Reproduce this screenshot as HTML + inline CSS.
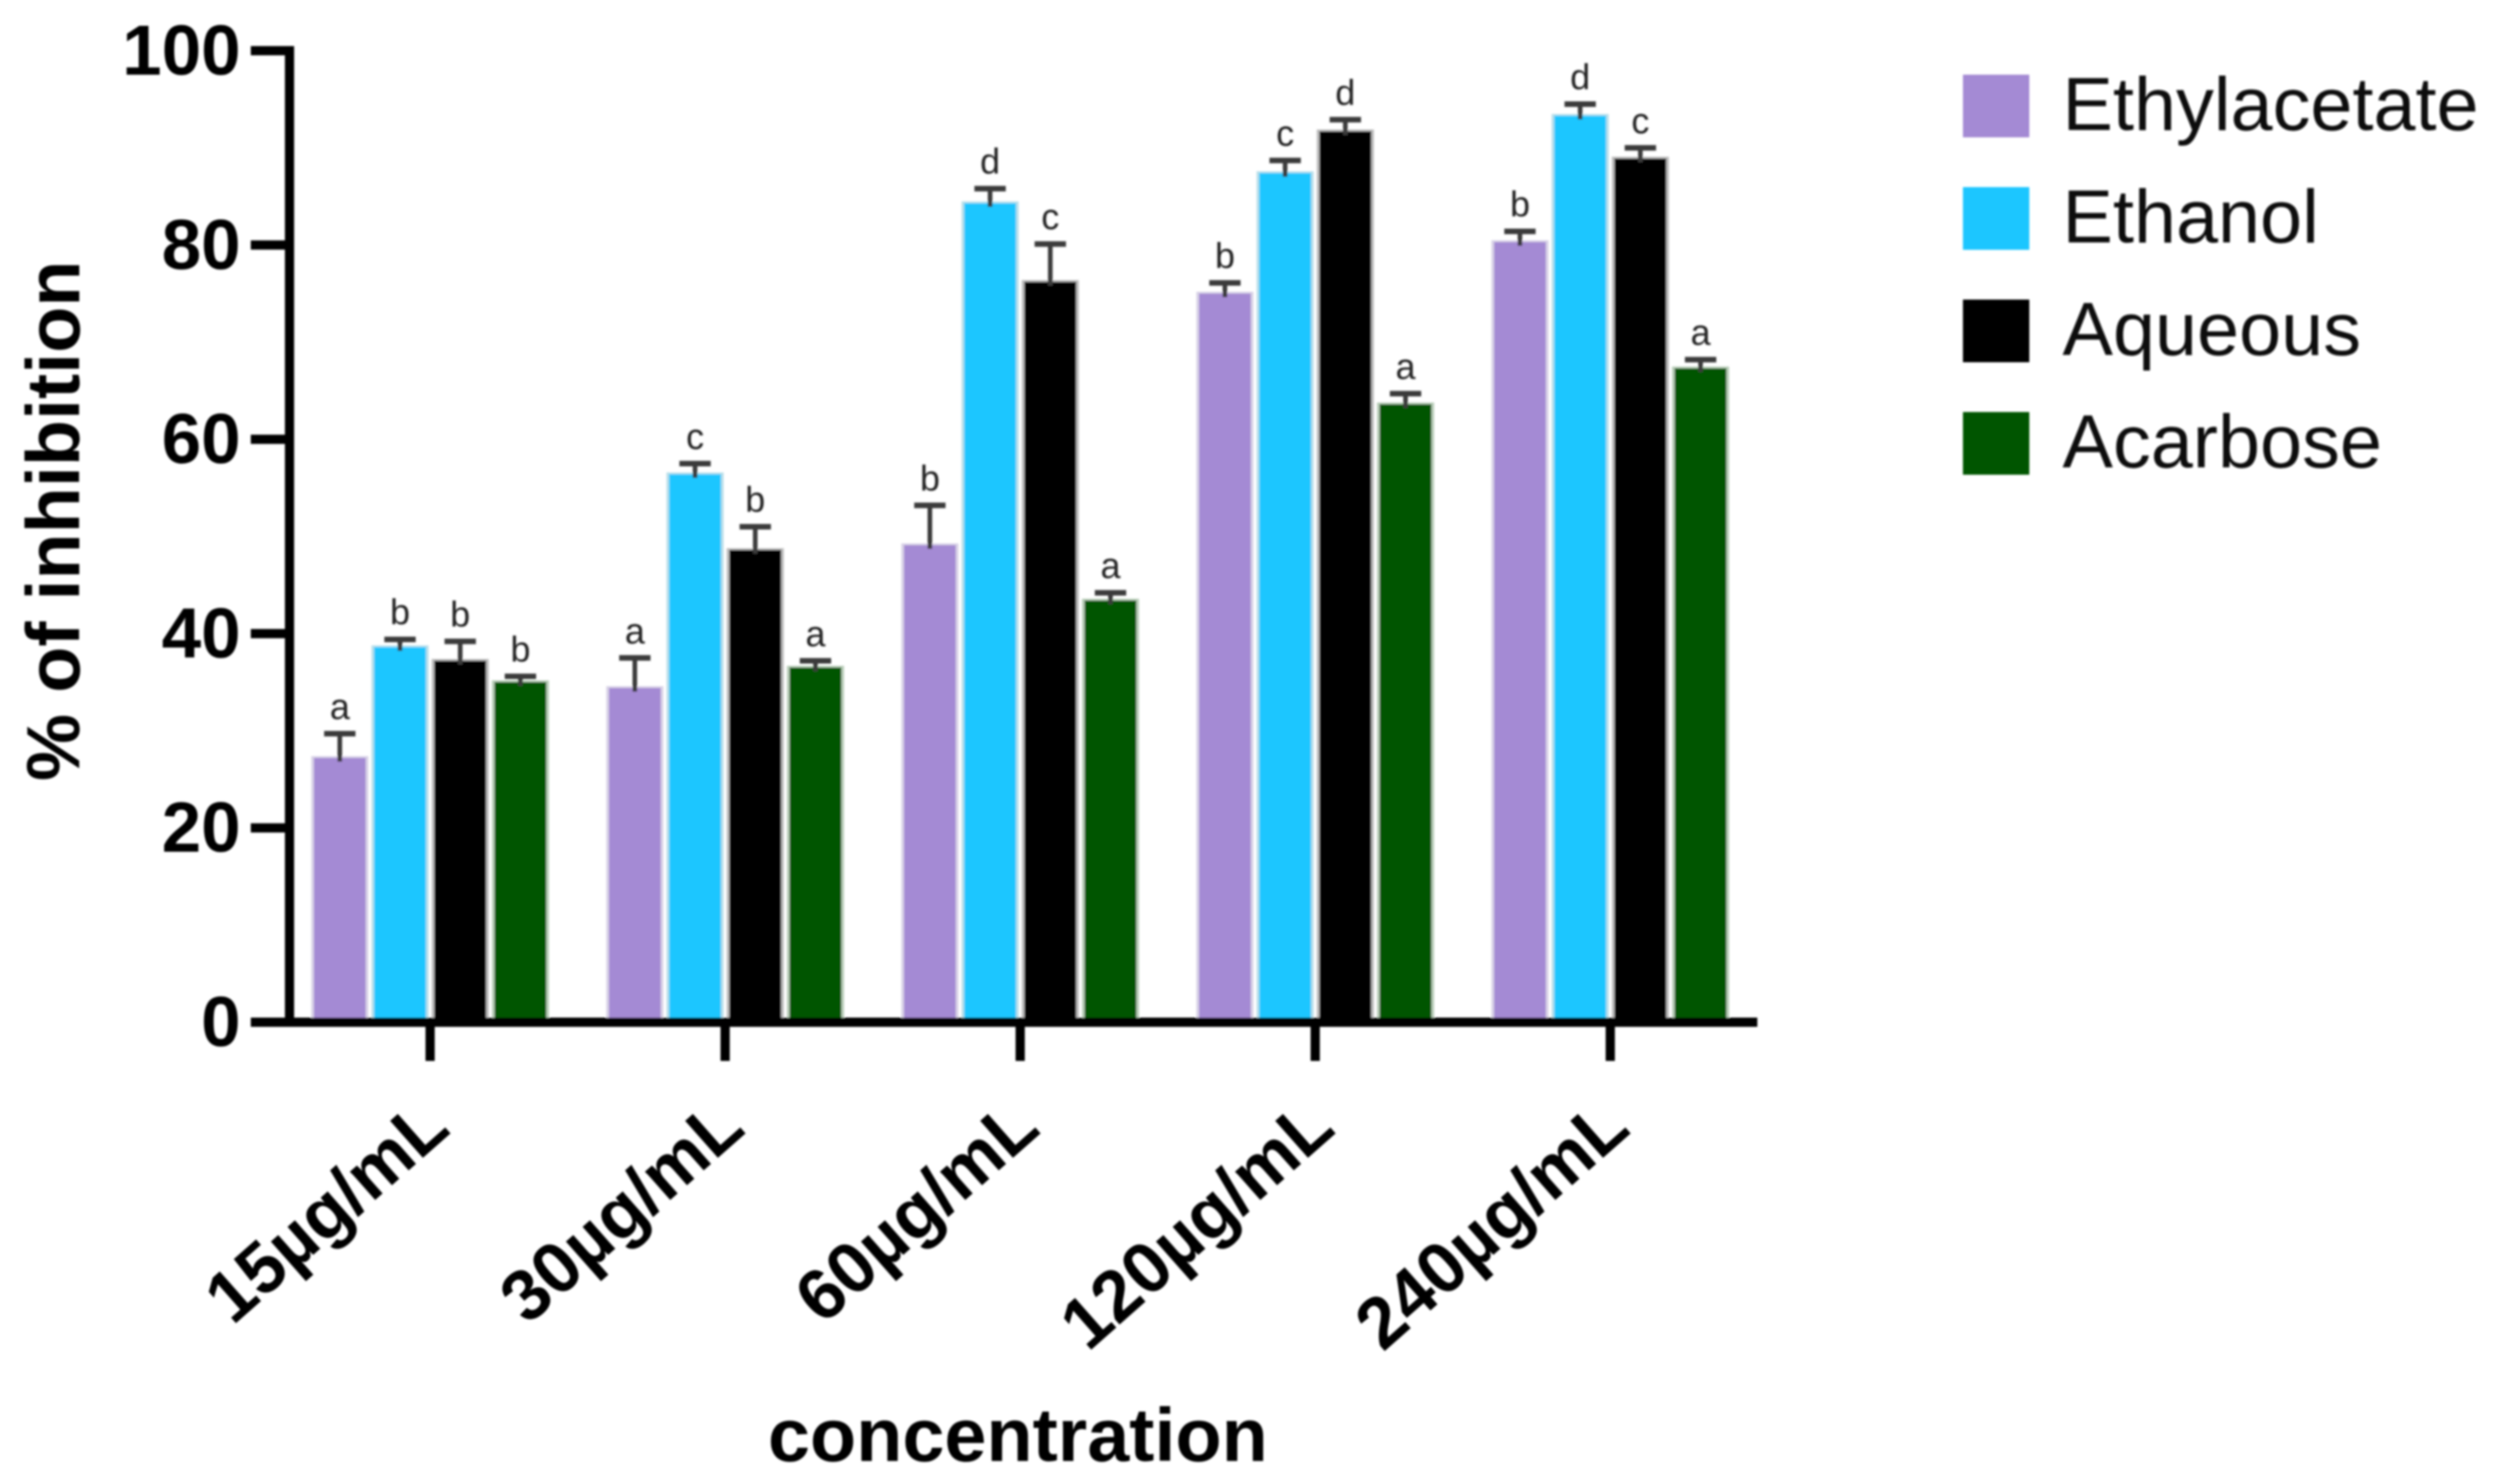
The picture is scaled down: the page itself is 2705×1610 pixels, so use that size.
<!DOCTYPE html>
<html lang="en">
<head>
<meta charset="utf-8">
<title>% of inhibition by concentration</title>
<style>
html,body{margin:0;padding:0;background:#fff;}
svg{display:block;font-family:"Liberation Sans",Arial,sans-serif;}
</style>
</head>
<body>
<svg id="chart" xmlns="http://www.w3.org/2000/svg" width="2705" height="1610" viewBox="0 0 2705 1610">
<defs><filter id="soft" x="-2%" y="-2%" width="104%" height="104%"><feGaussianBlur stdDeviation="1"/></filter></defs>
<rect x="0" y="0" width="2705" height="1610" fill="#ffffff"/>
<g id="plot" filter="url(#soft)"></g>
</svg>
<script>
const categories = ['15µg/mL', '30µg/mL', '60µg/mL', '120µg/mL', '240µg/mL'];
const seriesNames = ['Ethylacetate', 'Ethanol', 'Aqueous', 'Acarbose'];
const seriesColors = ['#A48AD4', '#1AC6FF', '#000000', '#005500'];
const edgeColors = ['#d8d2e6', '#b8dfea', '#bdbdbd', '#b8cdb8'];
const ethylacetate = [27.2, 34.4, 49.1, 75.0, 80.3];
const ethanol = [38.6, 56.4, 84.3, 87.4, 93.3];
const aqueous = [37.2, 48.6, 76.2, 91.7, 88.9];
const acarbose = [35.0, 36.5, 43.4, 63.6, 67.3];
const ethylacetateErr = [2.5, 3.1, 4.1, 1.1, 1.1];
const ethanolErr = [0.8, 1.1, 1.5, 1.3, 1.2];
const aqueousErr = [2.0, 2.4, 3.9, 1.2, 1.1];
const acarboseErr = [0.6, 0.7, 0.8, 1.1, 0.9];
const ethylacetateLetters = ['a', 'a', 'b', 'b', 'b'];
const ethanolLetters = ['b', 'c', 'd', 'c', 'd'];
const aqueousLetters = ['b', 'b', 'c', 'd', 'c'];
const acarboseLetters = ['b', 'a', 'a', 'a', 'a'];
const yTicks = [0, 20, 40, 60, 80, 100];

const values = [ethylacetate, ethanol, aqueous, acarbose];
const errors = [ethylacetateErr, ethanolErr, aqueousErr, acarboseErr];
const letters = [ethylacetateLetters, ethanolLetters, aqueousLetters, acarboseLetters];

const plot = document.getElementById('plot');
const NS = 'http://www.w3.org/2000/svg';
const Y0 = 1109, Y100 = 55;
const GROUP0 = 466.5, GROUP_STEP = 320, BAR_STEP = 65.3, BAR_W = 56, AXIS_X = 314;

function yScale(v) { return Y0 - (v / 100) * (Y0 - Y100); }
function groupX(i) { return GROUP0 + i * GROUP_STEP; }
function barX(i, s) { return groupX(i) + (s - 1.5) * BAR_STEP; }
function node(tag, parent) {
  const el = document.createElementNS(NS, tag);
  (parent || plot).appendChild(el);
  return el;
}
function setRect(el, x, y, w, h, fill) {
  el.setAttribute('x', x); el.setAttribute('y', y);
  el.setAttribute('width', w); el.setAttribute('height', h);
  el.setAttribute('fill', fill);
}

// bars, error bars, significance letters
values.forEach(function (series, s) {
  series.forEach(function (v, i) {
    const cx = barX(i, s), top = yScale(v), errTop = yScale(v + errors[s][i]);
    const edge = node('rect');
    
    
    setRect(edge, cx - BAR_W / 2 - 3, top - 2, BAR_W + 6, Y0 - top + 2, edgeColors[s]);

    const bar = node('rect');
    
    
    setRect(bar, cx - BAR_W / 2, top, BAR_W, Y0 - top, seriesColors[s]);

    const stem = node('rect');
    
    
    setRect(stem, cx - 2.5, errTop, 5, top - errTop + 4, '#3a3a3a');

    const cap = node('rect');
    
    
    setRect(cap, cx - 17, errTop - 3, 34, 6, '#3a3a3a');

    const t = node('text');
    
    
    t.setAttribute('x', cx);
    t.setAttribute('y', errTop - 16);
    t.setAttribute('text-anchor', 'middle');
    t.setAttribute('font-size', '39');
    t.setAttribute('fill', '#222');
    t.textContent = letters[s][i];
  });
});

// y axis
const yLine = node('rect');


setRect(yLine, AXIS_X - 5, Y100 - 5, 10, Y0 - Y100 + 10, '#000');
yTicks.forEach(function (v) {
  const tick = node('rect');
  
  
  setRect(tick, 272, yScale(v) - 5, 42, 10, '#000');
  const t = node('text');
  
  
  t.setAttribute('x', 261);
  t.setAttribute('y', yScale(v) + 26);
  t.setAttribute('text-anchor', 'end');
  t.setAttribute('font-size', '77');
  t.setAttribute('font-weight', '700');
  t.textContent = String(v);
});

// x axis
const xLine = node('rect');


setRect(xLine, 272, Y0 - 5, 1634, 10, '#000');
categories.forEach(function (c, i) {
  const tick = node('rect');
  
  
  setRect(tick, groupX(i) - 5, Y0, 10, 42, '#000');
  const t = node('text');
  
  
  t.setAttribute('text-anchor', 'end');
  t.setAttribute('font-size', '78');
  t.setAttribute('font-weight', '700');
  t.setAttribute('transform', 'translate(' + (groupX(i) + 24) + ' 1228) rotate(-41.5)');
  t.textContent = c;
});

// legend
seriesNames.forEach(function (name, s) {
  const y = 81 + s * 122;
  const sw = node('rect');
  
  
  setRect(sw, 2129, y, 72, 68, seriesColors[s]);
  const t = node('text');
  
  
  t.setAttribute('x', 2237);
  t.setAttribute('y', y + 60);
  t.setAttribute('font-size', '82');
  t.setAttribute('fill', '#111');
  t.textContent = name;
});

// axis titles
const xTitle = node('text');


xTitle.setAttribute('x', 1104);
xTitle.setAttribute('y', 1585);
xTitle.setAttribute('text-anchor', 'middle');
xTitle.setAttribute('font-size', '82');
xTitle.setAttribute('font-weight', '700');
xTitle.textContent = 'concentration';

const yTitle = node('text');


yTitle.setAttribute('text-anchor', 'middle');
yTitle.setAttribute('font-size', '82');
yTitle.setAttribute('font-weight', '700');
yTitle.setAttribute('transform', 'translate(86 565) rotate(-90)');
yTitle.textContent = '% of inhibition';
</script>
</body>
</html>
